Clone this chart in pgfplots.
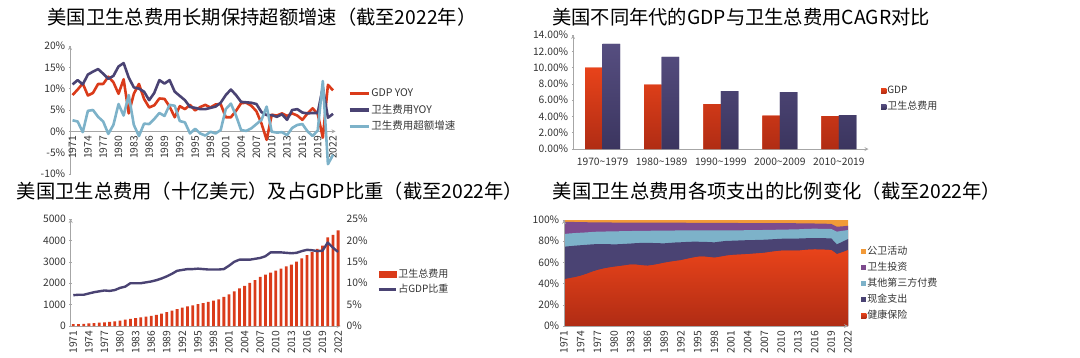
\documentclass[border=0pt]{standalone}
\usepackage{fontspec}
\setmainfont{Noto Sans CJK SC}
\usepackage{pgfplots}
\pgfplotsset{compat=1.18}
\usepackage{pgfplotstable}
\definecolor{cred}{HTML}{DA3B1A}
\definecolor{credt}{HTML}{E8431A}
\definecolor{credb}{HTML}{B02C14}
\definecolor{cpur}{HTML}{4A4373}
\definecolor{cpurt}{HTML}{564E80}
\definecolor{cpurb}{HTML}{3B355F}
\definecolor{ccyan}{HTML}{7DB2C9}
\definecolor{cviolet}{HTML}{7D4B8E}
\definecolor{corange}{HTML}{F29A38}
\definecolor{axgray}{HTML}{A6A6A6}
\definecolor{txt}{HTML}{333333}

\pgfplotstableread{
year gdp nhe exc
1971 8.5 11.0 2.6
1972 9.8 12.0 2.3
1973 11.2 11.0 -0.2
1974 8.4 13.3 4.8
1975 9.0 14.0 5.0
1976 11.1 14.6 3.4
1977 11.1 13.5 2.3
1978 12.8 12.3 -0.6
1979 11.5 13.0 1.5
1980 8.8 15.2 6.4
1981 12.2 16.0 3.7
1982 4.2 12.6 8.5
1983 8.8 10.3 1.5
1984 11.1 10.0 -1.1
1985 7.6 9.3 1.8
1986 5.6 7.3 1.7
1987 6.1 9.0 2.9
1988 7.7 12.0 4.3
1989 7.6 11.2 3.6
1990 5.8 12.0 6.2
1991 3.3 9.3 6.0
1992 5.9 8.3 2.4
1993 5.2 7.3 2.1
1994 6.2 5.7 -0.5
1995 4.9 5.5 0.6
1996 5.7 5.2 -0.5
1997 6.2 5.2 -1.0
1998 5.6 5.5 -0.1
1999 6.3 5.8 -0.5
2000 6.4 6.7 0.3
2001 3.3 8.5 5.2
2002 3.3 9.8 6.5
2003 4.8 8.5 3.7
2004 6.6 6.9 0.3
2005 6.7 6.8 0.1
2006 6.0 6.7 0.7
2007 4.7 6.4 1.7
2008 1.8 4.5 2.7
2009 -2.0 3.8 5.8
2010 3.9 3.8 -0.1
2011 3.7 3.4 -0.3
2012 4.2 4.0 -0.2
2013 3.6 2.7 -0.9
2014 4.2 5.0 0.8
2015 3.7 5.2 1.5
2016 2.7 4.4 1.7
2017 4.2 4.2 0.0
2018 5.4 4.3 -1.1
2019 4.1 4.3 0.2
2020 -1.5 10.3 11.8
2021 10.9 3.2 -7.7
2022 9.6 4.1 -5.5
}\growth

\pgfplotstableread{
year nhe share
1971 83 7.2
1972 93 7.3
1973 103 7.3
1974 117 7.6
1975 133 7.9
1976 153 8.1
1977 174 8.3
1978 195 8.2
1979 221 8.4
1980 255 8.9
1981 296 9.2
1982 334 10.0
1983 368 10.0
1984 406 10.0
1985 444 10.2
1986 476 10.4
1987 519 10.7
1988 581 11.1
1989 647 11.6
1990 721 12.2
1991 788 12.9
1992 854 13.1
1993 916 13.3
1994 967 13.3
1995 1021 13.4
1996 1073 13.3
1997 1125 13.2
1998 1183 13.2
1999 1246 13.2
2000 1366 13.3
2001 1482 14.1
2002 1617 15.0
2003 1763 15.5
2004 1876 15.5
2005 2010 15.5
2006 2145 15.7
2007 2292 15.9
2008 2401 16.3
2009 2493 17.2
2010 2589 17.2
2011 2676 17.2
2012 2783 17.1
2013 2868 17.0
2014 3004 17.1
2015 3163 17.5
2016 3307 17.8
2017 3447 17.7
2018 3604 17.5
2019 3757 17.6
2020 4144 19.5
2021 4255 18.3
2022 4464 17.3
}\spend

% cumulative tops of each layer (health insurance, +out of pocket, +other third party, +investment, total)
\pgfplotstableread{
year hi oop otp inv tot
1971 44.0 74.8 86.8 98.3 100
1972 45.0 75.3 87.3 98.2 100
1973 46.0 75.8 87.7 98.1 100
1974 47.3 76.2 88.0 98.0 100
1975 49.0 76.6 88.3 97.9 100
1976 51.0 77.0 88.7 97.8 100
1977 52.7 77.3 89.0 97.8 100
1978 54.0 77.3 89.1 97.7 100
1979 55.0 77.2 89.2 97.7 100
1980 55.8 77.0 89.3 97.6 100
1981 56.5 77.2 89.4 97.6 100
1982 57.2 77.5 89.5 97.6 100
1983 58.0 77.8 89.6 97.6 100
1984 57.8 78.2 89.7 97.6 100
1985 57.2 78.4 89.8 97.5 100
1986 56.8 78.5 89.8 97.5 100
1987 57.5 78.3 89.9 97.5 100
1988 58.5 78.1 89.9 97.5 100
1989 59.6 78.0 90.0 97.5 100
1990 60.5 78.4 90.0 97.5 100
1991 61.3 78.8 90.1 97.5 100
1992 62.0 79.0 90.1 97.5 100
1993 63.2 79.3 90.1 97.4 100
1994 64.3 79.5 90.2 97.4 100
1995 65.3 79.5 90.2 97.4 100
1996 65.5 79.4 90.2 97.3 100
1997 65.0 79.2 90.2 97.3 100
1998 64.4 78.9 90.2 97.3 100
1999 65.2 79.6 90.2 97.2 100
2000 66.2 80.2 90.2 97.2 100
2001 66.9 80.4 90.3 97.2 100
2002 67.2 80.6 90.3 97.2 100
2003 67.5 80.8 90.3 97.1 100
2004 67.8 81.0 90.4 97.1 100
2005 68.2 81.1 90.4 97.1 100
2006 68.6 81.2 90.5 97.0 100
2007 69.0 81.4 90.6 97.0 100
2008 69.8 81.7 90.7 97.0 100
2009 70.5 82.0 90.8 97.0 100
2010 71.0 82.3 90.9 97.0 100
2011 71.0 82.4 91.0 97.0 100
2012 71.0 82.4 91.1 97.0 100
2013 71.0 82.5 91.2 96.9 100
2014 71.6 82.7 91.5 96.9 100
2015 72.0 82.9 91.7 96.8 100
2016 72.2 83.0 91.8 96.7 100
2017 72.1 82.9 91.7 96.6 100
2018 71.9 82.8 91.6 96.5 100
2019 71.6 82.6 91.5 96.3 100
2020 67.8 77.0 89.0 93.7 100
2021 69.5 79.5 89.8 94.0 100
2022 71.6 82.0 90.5 94.6 100
}\mix

\pgfplotsset{
  /pgf/number format/.cd, 1000 sep={}, assume math mode=true,
  /pgfplots/.cd,
  base/.style={
    scale only axis, anchor=south west,
    axis line style={draw=axgray, line width=0.8pt, -},
    tick style={draw=axgray, line width=0.6pt},
    major tick length=2.5pt, tick align=outside,
    tick label style={font=\fontsize{10.3}{11}\selectfont, text=txt},
    legend cell align=left,
    legend style={draw=none, fill=none, text=txt,
      font=\fontsize{10.5}{12}\selectfont,
      nodes={inner sep=1pt, text height=0.8em, text depth=0.2em},
      row sep=4.5pt},
  },
  yearx/.style={
    xtick={1971,1974,...,2022},
    xticklabel style={rotate=90, anchor=east},
  },
}

\begin{document}
\begin{tikzpicture}
\path[use as bounding box] (0,0) rectangle (1080pt,357pt);

% titles
\node[font=\fontsize{19.3}{21}\selectfont] at (262pt,340pt) {美国卫生总费用长期保持超额增速（截至2022年）};
\node[font=\fontsize{19.3}{21}\selectfont] at (741pt,340pt) {美国不同年代的GDP与卫生总费用CAGR对比};
\node[font=\fontsize{19.3}{21}\selectfont] at (270pt,166pt) {美国卫生总费用（十亿美元）及占GDP比重（截至2022年）};
\node[font=\fontsize{19.3}{21}\selectfont] at (777pt,166pt) {美国卫生总费用各项支出的比例变化（截至2022年）};

% ---------- panel 1 ----------
\begin{axis}[base, yearx, at={(70pt,183pt)}, width=265.6pt, height=128pt,
  xmin=1970.5, xmax=2022.5, ymin=-10, ymax=20,
  axis x line=middle, axis y line=left,
  hide obscured x ticks=false, hide obscured y ticks=false,
  x tick style={draw=none},
  ytick={-10,-5,0,5,10,15,20},
  yticklabels={-10\%,-5\%,0\%,5\%,10\%,15\%,20\%},
  legend style={at={(1.035,0.5)}, anchor=west},
  legend image code/.code={\draw[#1, line width=3.2pt] (0pt,0pt) -- (19pt,0pt);},
  ]
  \addplot[cred, line width=2.6pt, line join=round] table[x=year,y=gdp]{\growth};
  \addlegendentry{GDP YOY}
  \addplot[cpur, line width=2.6pt, line join=round] table[x=year,y=nhe]{\growth};
  \addlegendentry{卫生费用YOY}
  \addplot[ccyan, line width=2.6pt, line join=round] table[x=year,y=exc]{\growth};
  \addlegendentry{卫生费用超额增速}
\end{axis}

% ---------- panel 2 ----------
\begin{axis}[base, at={(573pt,208pt)}, width=295.5pt, height=114pt,
  xmin=-0.5, xmax=4.5, ymin=0, ymax=14,
  axis x line=bottom, axis y line=left,
  ybar=0pt, bar width=17.5pt,
  xtick={0,1,2,3,4},
  xticklabels={1970\textasciitilde1979,1980\textasciitilde1989,1990\textasciitilde1999,2000\textasciitilde2009,2010\textasciitilde2019},
  xticklabel style={yshift=-3pt},
  x tick style={draw=none},
  extra x ticks={0.5,1.5,2.5,3.5}, extra x tick labels={},
  extra x tick style={tick style={draw=axgray}},
  ytick={0,2,4,6,8,10,12,14},
  yticklabels={0.00\%,2.00\%,4.00\%,6.00\%,8.00\%,10.00\%,12.00\%,14.00\%},
  legend style={at={(1.032,0.44)}, anchor=west, font=\fontsize{10}{11}\selectfont, row sep=4pt},
  legend image code/.code={\fill[#1] (0pt,-2.6pt) rectangle (5.2pt,2.6pt);},
  ]
  \addplot[draw=none, fill=cred, top color=credt, bottom color=credb] coordinates {(0,10.0) (1,7.9) (2,5.5) (3,4.1) (4,4.05)};
  \addlegendentry{GDP}
  \addplot[draw=none, fill=cpur, top color=cpurt, bottom color=cpurb] coordinates {(0,12.9) (1,11.3) (2,7.1) (3,7.0) (4,4.15)};
  \addlegendentry{卫生总费用}
\end{axis}

% ---------- panel 3 ----------
\begin{axis}[base, yearx, at={(70.7pt,31pt)}, width=270pt, height=107pt,
  xmin=1970.5, xmax=2022.5, ymin=0, ymax=5000,
  axis x line=bottom, axis y line=left,
  x tick style={draw=none},
  ytick={0,1000,...,5000},
  ]
  \addplot[ybar, bar width=2.8pt, draw=none, fill=cred] table[x=year,y=nhe]{\spend};
\end{axis}
\begin{axis}[base, at={(70.7pt,31pt)}, width=270pt, height=107pt,
  xmin=1970.5, xmax=2022.5, ymin=0, ymax=25,
  axis y line*=right, axis x line=none,
  y axis line style={draw=none},
  ytick={0,5,10,15,20,25},
  yticklabels={0\%,5\%,10\%,15\%,20\%,25\%},
  y tick style={draw=none},
  legend style={at={(1.123,0.41)}, anchor=west, font=\fontsize{10}{11}\selectfont, row sep=3.5pt},
  ]
  \addlegendimage{legend image code/.code={\fill[cred] (0pt,-2.8pt) rectangle (17pt,2.8pt);}}
  \addlegendentry{卫生总费用}
  \addlegendimage{legend image code/.code={\draw[cpur, line width=3.2pt] (0pt,0pt) -- (17pt,0pt);}}
  \addlegendentry{占GDP比重}
  \addplot[cpur, line width=2.4pt, line join=round, forget plot] table[x=year,y=share]{\spend};
\end{axis}

% ---------- panel 4 ----------
\begin{axis}[base, yearx, at={(564pt,31pt)}, width=284pt, height=106pt,
  xmin=1971, xmax=2022, ymin=0, ymax=100,
  axis x line=bottom, axis y line=left, axis on top,
  x tick style={draw=none},
  ytick={0,20,40,60,80,100},
  yticklabels={0\%,20\%,40\%,60\%,80\%,100\%},
  legend style={at={(1.035,0.40)}, anchor=west, font=\fontsize{10}{11}\selectfont, row sep=4pt},
  legend image code/.code={\fill[#1] (0pt,-2.6pt) rectangle (5.2pt,2.6pt);},
  ]
  \addplot[draw=none, fill=corange] table[x=year,y=tot]{\mix} \closedcycle;
  \addlegendentry{公卫活动}
  \addplot[draw=none, fill=cviolet] table[x=year,y=inv]{\mix} \closedcycle;
  \addlegendentry{卫生投资}
  \addplot[draw=none, fill=ccyan] table[x=year,y=otp]{\mix} \closedcycle;
  \addlegendentry{其他第三方付费}
  \addplot[draw=none, fill=cpur] table[x=year,y=oop]{\mix} \closedcycle;
  \addlegendentry{现金支出}
  \addplot[draw=none, fill=cred, top color=credt, bottom color=credb] table[x=year,y=hi]{\mix} \closedcycle;
  \addlegendentry{健康保险}
\end{axis}
\end{tikzpicture}
\end{document}
